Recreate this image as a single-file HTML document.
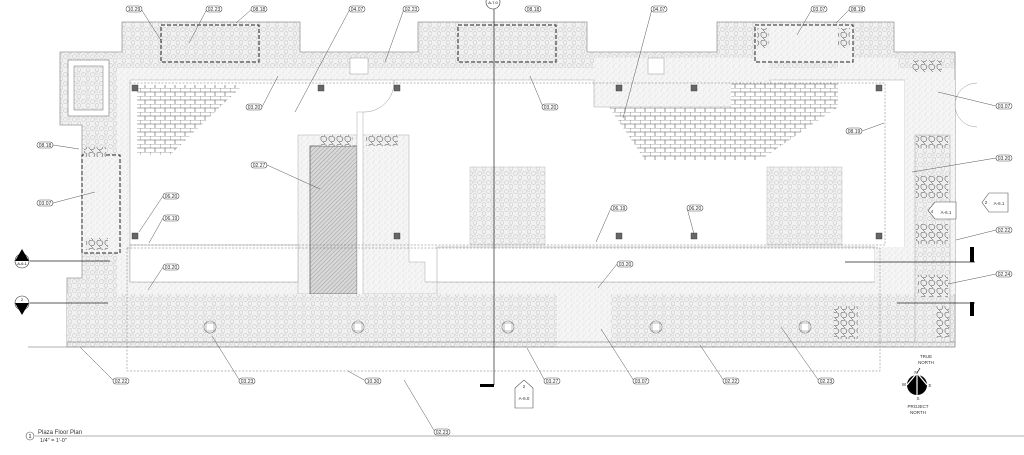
<!DOCTYPE html>
<html><head><meta charset="utf-8"><style>
html,body{margin:0;padding:0;background:#fff;}
svg{display:block;font-family:"Liberation Sans",sans-serif;}
.lb rect{fill:#fff;stroke:#555;stroke-width:0.6;}
.lb text{font-size:5px;fill:#333;text-anchor:middle;}
.ld{stroke:#555;stroke-width:0.5;fill:none;}
</style></head><body>
<svg width="1024" height="455" viewBox="0 0 1024 455" xmlns="http://www.w3.org/2000/svg">
<defs>
<pattern id="gr" width="9" height="9" patternUnits="userSpaceOnUse">
<rect width="9" height="9" fill="#f1f1f1"/>
<circle cx="2.5" cy="2.5" r="2" fill="none" stroke="#c2c2c2" stroke-width="0.5"/>
<circle cx="7" cy="6.5" r="2" fill="none" stroke="#c2c2c2" stroke-width="0.5"/>
<circle cx="6.5" cy="1.5" r="1.2" fill="none" stroke="#c8c8c8" stroke-width="0.4"/>
</pattern>
<pattern id="st" width="6" height="6" patternUnits="userSpaceOnUse">
<rect width="6" height="6" fill="#f5f5f5"/>
<circle cx="1" cy="1" r="0.4" fill="#aaa"/><circle cx="4" cy="3" r="0.4" fill="#b5b5b5"/><circle cx="2" cy="5" r="0.35" fill="#aaa"/>
</pattern>
<pattern id="br" width="10" height="8" patternUnits="userSpaceOnUse">
<rect width="10" height="8" fill="#fff"/>
<path d="M0 0H10M0 4H10M0 0V4M5 4V8" stroke="#555" stroke-width="0.6"/>
</pattern>
<pattern id="ht" width="3" height="3" patternUnits="userSpaceOnUse" patternTransform="rotate(45)">
<rect width="3" height="3" fill="#d8d8d8"/><line x1="0" y1="0" x2="0" y2="3" stroke="#777" stroke-width="0.6"/>
</pattern>
<pattern id="pv" width="8" height="8" patternUnits="userSpaceOnUse">
<rect width="8" height="8" fill="#eee"/>
<path d="M1 1L4 0L7 2L6 5L3 6L1 4Z M3 6L5 8" fill="none" stroke="#444" stroke-width="0.5"/>
</pattern>
</defs>

<!-- gravel base -->
<path d="M60 52H122V22H300V52H418V22H587V52H717V22H894V52H955V347H67V278H82V125H60Z" fill="url(#gr)" stroke="#999" stroke-width="0.8"/>
<!-- stipple band -->
<rect x="117" y="68" width="838" height="226" fill="url(#st)"/>
<rect x="594" y="58" width="176" height="49" fill="url(#st)"/>
<rect x="838" y="58" width="60" height="22" fill="url(#st)"/>
<!-- white interior -->
<path d="M130 80H594V107H770V80H905V282H130Z" fill="#fff" stroke="#aaa" stroke-width="0.6"/>
<!-- bricks -->
<path d="M137 85H243L170 155H137Z" fill="url(#br)"/>
<path d="M731 82H838L838 107L760 160H645L609 107H731Z" fill="url(#br)"/>
<!-- central column stipple -->
<path d="M298 135H409V262H425V282H437V294H298Z" fill="url(#st)" stroke="#aaa" stroke-width="0.5"/>
<rect x="310" y="146" width="47" height="148" fill="url(#ht)" stroke="#555" stroke-width="0.7"/>
<rect x="357" y="112" width="6" height="200" fill="#fff" stroke="#aaa" stroke-width="0.5"/>
<rect x="320" y="135" width="33" height="11" fill="url(#pv)"/>
<rect x="366" y="135" width="32" height="11" fill="url(#pv)"/>
<!-- bottom band / white corridor -->
<rect x="130" y="245" width="168" height="37" fill="#fff" stroke="#aaa" stroke-width="0.6"/>
<rect x="437" y="247" width="438" height="35" fill="#fff" stroke="#aaa" stroke-width="0.6"/>
<rect x="117" y="282" width="13" height="12" fill="url(#st)"/>
<rect x="875" y="247" width="30" height="47" fill="url(#st)"/>
<rect x="67" y="294" width="888" height="48" fill="url(#gr)"/>
<rect x="557" y="294" width="54" height="53" fill="url(#st)"/>
<line x1="67" y1="342" x2="955" y2="342" stroke="#999" stroke-width="0.8"/>
<line x1="28" y1="347" x2="955" y2="347" stroke="#999" stroke-width="0.8"/>
<line x1="955" y1="52" x2="955" y2="347" stroke="#999" stroke-width="0.8"/>
<!-- gravel squares -->
<rect x="470" y="167" width="75" height="78" fill="url(#gr)" stroke="#bbb" stroke-width="0.5"/>
<rect x="767" y="167" width="75" height="78" fill="url(#gr)" stroke="#bbb" stroke-width="0.5"/>
<!-- right column -->
<rect x="905" y="80" width="50" height="214" fill="url(#st)"/>
<rect x="915" y="135" width="35" height="207" fill="url(#gr)" stroke="#aaa" stroke-width="0.5"/>
<rect x="916" y="136" width="32" height="12" fill="url(#pv)"/>
<rect x="916" y="176" width="32" height="22" fill="url(#pv)"/>
<rect x="916" y="224" width="32" height="20" fill="url(#pv)"/>
<rect x="918" y="275" width="30" height="22" fill="url(#pv)"/>
<rect x="935" y="306" width="14" height="32" fill="url(#pv)"/>
<rect x="834" y="306" width="24" height="33" fill="url(#pv)"/>
<rect x="912" y="60" width="30" height="12" fill="url(#pv)"/>
<!-- top bays -->
<rect x="161" y="25" width="98" height="37" fill="none" stroke="#222" stroke-width="1" stroke-dasharray="4,2"/>
<rect x="458" y="25" width="98" height="37" fill="none" stroke="#222" stroke-width="1" stroke-dasharray="4,2"/>
<rect x="755" y="25" width="98" height="37" fill="url(#st)" stroke="#222" stroke-width="1" stroke-dasharray="4,2"/>
<rect x="757" y="28" width="12" height="20" fill="url(#pv)"/><rect x="838" y="28" width="12" height="20" fill="url(#pv)"/>
<rect x="350" y="58" width="18" height="16" fill="#fff" stroke="#999" stroke-width="0.5"/>
<rect x="648" y="58" width="16" height="16" fill="#fff" stroke="#999" stroke-width="0.5"/>
<!-- left panel -->
<rect x="68" y="60" width="41" height="56" fill="#fff" stroke="#888" stroke-width="0.7"/>
<rect x="74" y="66" width="29" height="44" fill="url(#gr)" stroke="#888" stroke-width="0.6"/>
<rect x="82" y="155" width="38" height="98" fill="url(#st)" stroke="#222" stroke-width="1" stroke-dasharray="4,2"/>
<rect x="84" y="147" width="22" height="10" fill="url(#pv)"/><rect x="86" y="238" width="22" height="12" fill="url(#pv)"/>
<!-- door right -->
<path d="M955 105A22 22 0 0 0 977 127M955 105A22 22 0 0 1 977 83" fill="none" stroke="#999" stroke-width="0.5"/>
<path d="M363 112A30 30 0 0 0 394 80" fill="none" stroke="#999" stroke-width="0.5"/>
<!-- dashed outlines -->
<path d="M130 83H885V245H130" fill="none" stroke="#777" stroke-width="0.5" stroke-dasharray="2,1.5"/>
<rect x="127" y="248" width="753" height="123" fill="none" stroke="#777" stroke-width="0.5" stroke-dasharray="2,1.5"/>
<!-- columns -->
<g fill="#666" stroke="#333" stroke-width="0.4">
<rect x="132" y="85" width="6" height="6"/><rect x="318" y="85" width="6" height="6"/><rect x="394" y="85" width="6" height="6"/><rect x="616" y="85" width="6" height="6"/><rect x="691" y="85" width="6" height="6"/><rect x="876" y="85" width="6" height="6"/>
<rect x="132" y="233" width="6" height="6"/><rect x="394" y="233" width="6" height="6"/><rect x="616" y="233" width="6" height="6"/><rect x="691" y="233" width="6" height="6"/><rect x="876" y="233" width="6" height="6"/>
</g>
<!-- drains -->
<g fill="#fff" stroke="#777" stroke-width="0.6">
<circle cx="210" cy="327" r="6"/><circle cx="358" cy="327" r="6"/><circle cx="508" cy="327" r="6"/><circle cx="656" cy="327" r="6"/><circle cx="805" cy="327" r="6"/>
</g>
<g fill="none" stroke="#777" stroke-width="0.5">
<rect x="206" y="323" width="8" height="8"/><rect x="354" y="323" width="8" height="8"/><rect x="504" y="323" width="8" height="8"/><rect x="652" y="323" width="8" height="8"/><rect x="801" y="323" width="8" height="8"/>
</g>
<!-- section lines -->
<g stroke="#222" stroke-width="0.7">
<line x1="30" y1="261" x2="110" y2="261"/><line x1="30" y1="303" x2="108" y2="303"/>
<line x1="845" y1="262" x2="975" y2="262"/><line x1="897" y1="303" x2="975" y2="303"/>
<line x1="494" y1="0" x2="494" y2="132"/><line x1="494" y1="132" x2="494" y2="385"/>
</g>
<rect x="970" y="247" width="4" height="15" fill="#000"/><rect x="970" y="302" width="4" height="14" fill="#000"/>
<rect x="480" y="384" width="14" height="3" fill="#000"/>
<!-- left section markers -->
<g>
<circle cx="22" cy="261" r="7" fill="#fff" stroke="#333" stroke-width="0.6"/><path d="M15 261L22 249L29 261" fill="#000"/>
<text x="22" y="259" font-size="4" text-anchor="middle">3</text><text x="22" y="265" font-size="4" text-anchor="middle">A-6.1</text>
<circle cx="22" cy="303" r="7" fill="#fff" stroke="#333" stroke-width="0.6"/><path d="M15 303L22 315L29 303" fill="#000"/>
<text x="22" y="301" font-size="4" text-anchor="middle">2</text><text x="22" y="307" font-size="4" text-anchor="middle">A-7.0</text>
<circle cx="493" cy="2" r="7" fill="#fff" stroke="#333" stroke-width="0.6"/><text x="493" y="4" font-size="4" text-anchor="middle">A-7.0</text>
</g>
<!-- tags -->
<g fill="#fff" stroke="#555" stroke-width="0.6">
<path d="M989 193H1008V212H989L982 202.5Z"/><path d="M935 202H956V219H935L928 210.5Z"/><path d="M515 388L524 380L533 388V408H515Z"/>
</g>
<g font-size="4.5" fill="#333" text-anchor="middle">
<text x="986" y="204">2</text><text x="999" y="205">A-6.1</text>
<text x="932" y="213">4</text><text x="946" y="214">A-6.1</text>
<text x="524" y="388">2</text><text x="524" y="400">A-6.0</text>
</g>
<!-- leaders -->
<g class="ld">
<path d="M141 9L162 42"/><path d="M207 9L189 43"/><path d="M252 9L236 23"/><path d="M350 9L295 112"/><path d="M404 9L385 62"/>
<path d="M652 9L623 118"/><path d="M812 9L797 35"/><path d="M850 9L836 23"/>
<path d="M262 107L278 76"/><path d="M543 107L530 76"/><path d="M862 131L884 123"/>
<path d="M996 106L938 92"/><path d="M996 158L912 172"/><path d="M996 230L956 240"/><path d="M996 274L948 284"/>
<path d="M53 145L79 149"/><path d="M53 203L95 192"/><path d="M267 165L320 189"/>
<path d="M163 196L139 232"/><path d="M163 218L149 243"/><path d="M611 208L596 242"/><path d="M687 208L694 234"/>
<path d="M163 267L148 290"/><path d="M617 264L598 288"/>
<path d="M114 381L80 347"/><path d="M240 381L212 336"/><path d="M366 381L348 371"/><path d="M545 381L527 348"/>
<path d="M634 381L601 329"/><path d="M724 381L700 345"/><path d="M819 381L781 327"/><path d="M435 432L404 380"/>
</g>
<!-- labels -->
<g class="lb">
<g transform="translate(134,9)"><rect x="-8" y="-3" width="16" height="6" rx="3"/><text y="1.8">10.29</text></g>
<g transform="translate(214,9)"><rect x="-8" y="-3" width="16" height="6" rx="3"/><text y="1.8">02.23</text></g>
<g transform="translate(259,9)"><rect x="-8" y="-3" width="16" height="6" rx="3"/><text y="1.8">08.18</text></g>
<g transform="translate(357,9)"><rect x="-8" y="-3" width="16" height="6" rx="3"/><text y="1.8">04.07</text></g>
<g transform="translate(411,9)"><rect x="-8" y="-3" width="16" height="6" rx="3"/><text y="1.8">02.23</text></g>
<g transform="translate(533,9)"><rect x="-8" y="-3" width="16" height="6" rx="3"/><text y="1.8">08.18</text></g>
<g transform="translate(659,9)"><rect x="-8" y="-3" width="16" height="6" rx="3"/><text y="1.8">04.07</text></g>
<g transform="translate(819,9)"><rect x="-8" y="-3" width="16" height="6" rx="3"/><text y="1.8">03.07</text></g>
<g transform="translate(857,9)"><rect x="-8" y="-3" width="16" height="6" rx="3"/><text y="1.8">08.18</text></g>
<g transform="translate(254,107)"><rect x="-8" y="-3" width="16" height="6" rx="3"/><text y="1.8">03.20</text></g>
<g transform="translate(550,107)"><rect x="-8" y="-3" width="16" height="6" rx="3"/><text y="1.8">03.20</text></g>
<g transform="translate(854,131)"><rect x="-8" y="-3" width="16" height="6" rx="3"/><text y="1.8">08.19</text></g>
<g transform="translate(1004,106)"><rect x="-8" y="-3" width="16" height="6" rx="3"/><text y="1.8">03.07</text></g>
<g transform="translate(1004,158)"><rect x="-8" y="-3" width="16" height="6" rx="3"/><text y="1.8">03.20</text></g>
<g transform="translate(1004,230)"><rect x="-8" y="-3" width="16" height="6" rx="3"/><text y="1.8">02.22</text></g>
<g transform="translate(1004,274)"><rect x="-8" y="-3" width="16" height="6" rx="3"/><text y="1.8">02.24</text></g>
<g transform="translate(45,145)"><rect x="-8" y="-3" width="16" height="6" rx="3"/><text y="1.8">08.18</text></g>
<g transform="translate(45,203)"><rect x="-8" y="-3" width="16" height="6" rx="3"/><text y="1.8">03.07</text></g>
<g transform="translate(259,165)"><rect x="-8" y="-3" width="16" height="6" rx="3"/><text y="1.8">02.27</text></g>
<g transform="translate(171,196)"><rect x="-8" y="-3" width="16" height="6" rx="3"/><text y="1.8">06.20</text></g>
<g transform="translate(171,218)"><rect x="-8" y="-3" width="16" height="6" rx="3"/><text y="1.8">06.19</text></g>
<g transform="translate(619,208)"><rect x="-8" y="-3" width="16" height="6" rx="3"/><text y="1.8">06.19</text></g>
<g transform="translate(695,208)"><rect x="-8" y="-3" width="16" height="6" rx="3"/><text y="1.8">06.20</text></g>
<g transform="translate(171,267)"><rect x="-8" y="-3" width="16" height="6" rx="3"/><text y="1.8">03.20</text></g>
<g transform="translate(625,264)"><rect x="-8" y="-3" width="16" height="6" rx="3"/><text y="1.8">03.20</text></g>
<g transform="translate(121,381)"><rect x="-8" y="-3" width="16" height="6" rx="3"/><text y="1.8">02.22</text></g>
<g transform="translate(247,381)"><rect x="-8" y="-3" width="16" height="6" rx="3"/><text y="1.8">03.23</text></g>
<g transform="translate(373,381)"><rect x="-8" y="-3" width="16" height="6" rx="3"/><text y="1.8">10.30</text></g>
<g transform="translate(552,381)"><rect x="-8" y="-3" width="16" height="6" rx="3"/><text y="1.8">03.27</text></g>
<g transform="translate(641,381)"><rect x="-8" y="-3" width="16" height="6" rx="3"/><text y="1.8">03.07</text></g>
<g transform="translate(731,381)"><rect x="-8" y="-3" width="16" height="6" rx="3"/><text y="1.8">02.22</text></g>
<g transform="translate(826,381)"><rect x="-8" y="-3" width="16" height="6" rx="3"/><text y="1.8">02.23</text></g>
<g transform="translate(442,432)"><rect x="-8" y="-3" width="16" height="6" rx="3"/><text y="1.8">02.23</text></g>
</g>
<!-- compass -->
<g>
<circle cx="917" cy="385" r="10" fill="#000"/>
<path d="M917 373L907 385M917 373L927 385M917 373V398" stroke="#fff" stroke-width="1.2"/>
<line x1="917" y1="373" x2="920" y2="368" stroke="#000" stroke-width="0.7"/>
<g font-size="4.5" fill="#333" text-anchor="middle">
<text x="926" y="358">TRUE</text><text x="926" y="364">NORTH</text>
<text x="916" y="374">N</text><text x="904" y="386">W</text><text x="930" y="387">E</text><text x="918" y="400">S</text>
<text x="918" y="408">PROJECT</text><text x="918" y="414">NORTH</text>
</g>
</g>
<!-- title -->
<line x1="35" y1="436" x2="1024" y2="436" stroke="#999" stroke-width="0.8"/>
<circle cx="30" cy="436" r="4" fill="#fff" stroke="#555" stroke-width="0.6"/>
<text x="30" y="438" font-size="5" text-anchor="middle">1</text>
<text x="38" y="434" font-size="6" fill="#333">Plaza Floor Plan</text>
<text x="40" y="442" font-size="5.5" fill="#333">1/4" = 1'-0"</text>
</svg>
</body></html>
